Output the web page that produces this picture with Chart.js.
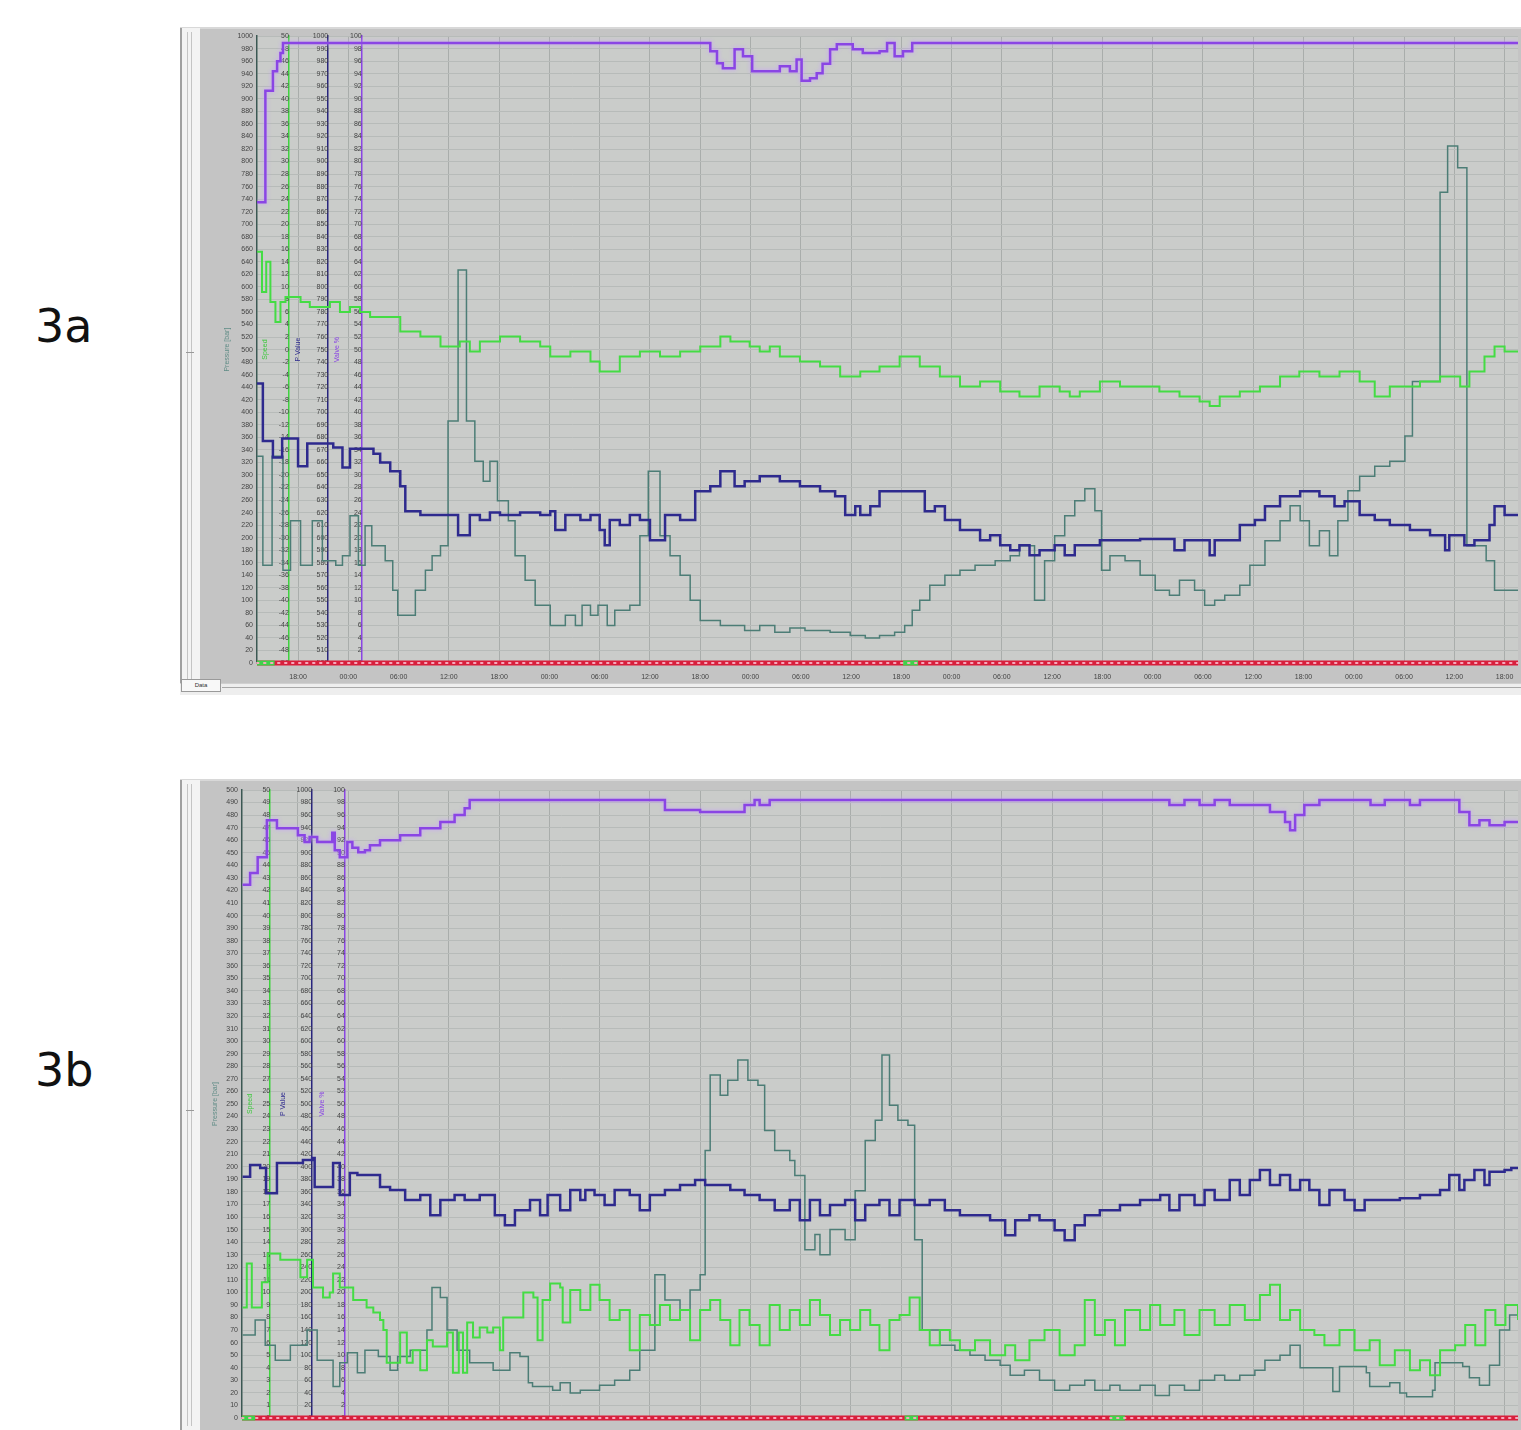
<!DOCTYPE html>
<html><head><meta charset="utf-8">
<script src="https://cdn.jsdelivr.net/npm/chart.js@4.4.1/dist/chart.umd.min.js"></script>
<style>
html,body{margin:0;padding:0;background:#fff;width:1521px;height:1430px;overflow:hidden;position:relative;font-family:"DejaVu Sans",sans-serif}
.lbl{position:absolute;left:35px;font-size:46px;line-height:46px;color:#111}
.wrap{position:absolute;left:180px;width:1341px}
#w1{top:28px;height:655px}
#w2{top:780px;height:680px}
canvas{display:block}
.strip{position:absolute;left:180px;width:20px;background:#f3f3f3;border-left:2px solid #a0a0a0;box-sizing:border-box;z-index:2}
.strip:after{content:"";position:absolute;left:5px;top:4px;bottom:4px;width:3px;border-left:1px solid #c4c4c4;border-right:1px solid #c4c4c4}
.thumb{position:absolute;left:186px;width:8px;height:5px;border-top:1px solid #999;z-index:3}
.bottom{position:absolute;left:180px;width:1341px;top:683px;height:12px;background:#eeeeee;border-top:1px solid #d0d0d0;box-sizing:border-box;z-index:2}
.bottom:after{content:"";position:absolute;left:42px;right:0;top:3px;border-top:1px solid #a8a8a8}
.tab{position:absolute;left:181px;top:679px;width:40px;height:13px;background:#f8f8f8;border:1px solid #9a9a9a;box-sizing:border-box;font:6px "Liberation Sans",Arial,sans-serif;color:#333;text-align:center;line-height:11px;z-index:3}
.topline{position:absolute;left:180px;width:1341px;height:2px;background:#d8d8d8;z-index:2}
</style></head>
<body>
<div class="lbl" style="top:303px">3a</div>
<div class="lbl" style="top:1047px">3b</div>
<div class="wrap" id="w1"><canvas id="c1" width="1341" height="655"></canvas></div>
<div class="wrap" id="w2"><canvas id="c2" width="1341" height="680"></canvas></div>
<div class="topline" style="top:27px"></div>
<div class="topline" style="top:779px"></div>
<div class="strip" style="top:28px;height:667px"></div>
<div class="thumb" style="top:352px"></div>
<div class="strip" style="top:780px;height:650px"></div>
<div class="thumb" style="top:1110px"></div>
<div class="bottom"></div>
<div class="tab">Data</div>
<script>
// ---------- shared x-axis (hours) ----------
const xTickHours = [18,24,30,36,42,48,54,60,66,72,78,84,90,96,102,108,114,120,126,132,138,144,150,156,162];
const xTickLabels = ['18:00','00:00','06:00','12:00','18:00','00:00','06:00','12:00','18:00','00:00','06:00','12:00','18:00','00:00','06:00','12:00','18:00','00:00','06:00','12:00','18:00','00:00','06:00','12:00','18:00'];

// ---------- 3a series ----------
const a_purple_t = [13.1,14.1,15.0,15.5,15.9,16.2,67.2,68.0,68.7,70.1,71.1,72.2,75.5,76.7,77.5,78.1,79.1,79.9,80.6,81.5,82.3,84.2,85.4,87.4,88.3,89.2,90.2,91.3,163.6];
const a_purple_v = [73.5,91.3,94.4,96.0,97.3,98.9,97.6,95.7,94.9,97.9,96.8,94.4,95.2,94.4,96.3,92.9,93.3,94.1,95.6,97.9,98.7,97.9,97.3,97.6,98.9,96.8,97.6,98.9,98.9];

const a_green_t = [13.1,13.7,14.2,14.7,15.3,15.9,16.5,18.3,19.4,21.8,23.0,24.2,25.4,26.6,30.2,32.6,35.0,37.3,38.5,39.7,42.1,44.5,46.9,48.1,50.5,52.9,54.0,56.4,58.8,61.2,63.6,66.0,68.4,69.6,71.9,73.1,74.3,75.5,77.9,80.3,82.7,85.1,87.4,89.8,92.2,94.6,97.0,99.4,101.8,104.1,106.5,108.9,110.1,111.3,113.7,116.1,120.8,123.2,125.6,126.8,128.0,130.4,132.8,135.2,137.5,139.9,142.3,144.7,146.5,148.3,151.9,154.3,156.7,157.8,159.6,160.8,162.0,163.6];
const a_green_v = [15.6,9.2,14.0,7.6,4.4,7.6,8.4,7.6,6.8,7.6,6.0,6.8,6.0,5.2,2.9,2.1,0.5,1.3,-0.3,1.3,2.1,1.3,0.5,-1.1,-0.3,-1.9,-3.5,-1.1,-0.3,-1.1,-0.3,0.5,2.1,1.3,0.5,-0.3,0.5,-1.1,-1.9,-2.7,-4.3,-3.5,-2.7,-1.1,-2.7,-4.3,-5.9,-5.1,-6.7,-7.5,-5.9,-6.7,-7.5,-6.7,-5.1,-5.9,-6.7,-7.5,-8.3,-9.0,-7.5,-6.7,-5.9,-4.3,-3.5,-4.3,-3.5,-5.1,-7.5,-5.9,-5.1,-4.3,-5.9,-3.5,-1.1,0.5,-0.3,-0.3];

const a_navy_t = [13.1,13.8,15.0,16.1,18.0,19.1,22.2,23.3,24.2,27.0,27.8,29.0,30.2,30.8,32.6,37.1,38.5,39.7,40.9,42.1,44.5,46.9,48.1,48.7,49.9,51.7,52.9,54.0,54.6,55.2,56.4,57.6,58.8,60.0,61.8,63.6,65.4,67.2,68.4,70.1,71.3,73.1,75.5,77.9,80.3,82.1,83.3,84.5,85.1,86.3,87.4,92.8,94.0,95.2,97.0,99.4,100.6,101.8,103.0,104.1,105.3,106.5,108.3,109.5,110.7,113.7,118.5,122.6,123.8,126.8,127.4,130.4,132.2,133.4,135.2,137.6,139.9,141.7,142.9,144.7,146.5,148.3,150.7,153.1,154.9,155.4,157.2,158.4,160.2,160.8,162.0,163.6];
const a_navy_v = [723,677,664,679,657,675,672,656,671,667,660,653,641,621,618,602,618,614,620,618,620,618,621,606,618,614,618,606,594,614,610,618,614,598,618,614,637,641,653,641,645,649,645,641,637,633,618,625,618,625,637,621,625,614,606,598,602,594,590,594,586,590,594,586,594,598,599,590,598,586,598,610,614,625,633,637,633,625,629,618,614,610,606,602,590,602,594,598,610,625,618,618];

const a_teal_t = [13.1,13.8,14.9,16.2,17.1,18.3,19.7,20.9,22.5,23.3,24.2,25.2,26.0,26.8,28.4,29.3,29.9,32.0,33.2,34.0,35.0,35.9,37.1,38.1,39.1,40.1,40.9,41.8,43.1,43.9,45.1,46.3,48.1,49.9,51.1,51.9,52.9,53.8,54.9,55.8,57.6,58.8,59.8,61.2,62.4,63.6,64.8,66.0,68.4,71.3,73.1,74.9,76.7,78.5,81.5,83.9,85.7,87.4,89.2,90.4,91.3,92.2,93.4,95.2,97.0,98.8,101.2,103.0,104.1,105.9,107.1,108.3,109.5,110.7,111.9,113.1,113.9,114.9,116.7,118.5,120.3,122.0,123.2,125.0,126.2,127.4,128.6,130.4,131.6,133.4,135.2,136.4,137.6,138.7,139.9,141.1,142.1,143.3,144.7,146.5,148.3,150.1,151.0,154.3,155.2,156.4,157.5,159.8,160.8,163.6];
const a_teal_v = [330,156,330,148,227,156,227,163,156,171,235,156,219,187,163,116,76,116,148,171,187,386,627,386,322,290,322,259,227,171,132,92,60,76,60,92,76,92,60,84,92,203,306,203,171,140,100,68,60,52,60,49,56,52,49,44,40,44,49,60,84,100,124,140,148,156,163,171,187,100,163,203,235,259,278,243,148,171,163,140,116,108,132,116,92,100,108,124,156,195,227,251,227,187,211,171,227,275,298,314,322,362,449,751,825,790,187,163,116,116];

const a_statusGreen = [[13.1,15.2],[90.2,92.0]];

// ---------- 3b series ----------
const b_purple_t = [11.4,12.3,13.2,14.3,15.5,18.0,18.8,19.4,20.3,22.1,22.4,23.0,23.9,24.5,25.2,26.0,26.6,27.8,30.2,32.6,35.0,36.7,37.9,38.5,61.8,66.0,71.3,72.5,73.1,74.3,122.0,123.8,125.6,127.4,129.2,134.0,135.8,136.4,137.0,138.1,139.9,146.0,147.7,150.7,151.9,156.6,157.8,159.0,160.2,162.0,163.6];
const b_purple_v = [84.9,86.8,89.3,95.2,93.9,92.8,91.7,92.5,91.7,93.2,90.4,89.3,91.7,90.8,90.1,90.4,91.2,92.0,92.8,93.9,94.9,96.0,97.1,98.4,96.8,96.5,97.6,98.4,97.6,98.4,97.6,98.4,97.6,98.4,97.6,96.5,94.9,93.6,96.0,97.6,98.4,97.6,98.4,97.6,98.4,96.5,94.4,95.2,94.4,94.9,94.9];

const b_navy_t = [11.4,12.3,13.5,14.2,15.5,18.6,19.7,20.0,22.2,23.0,24.2,25.1,27.8,29.0,30.8,32.6,33.8,35.0,36.7,37.9,39.7,41.5,42.7,43.9,45.7,46.9,47.8,49.3,50.5,51.7,52.3,53.4,54.6,55.8,57.6,58.8,60.0,61.8,63.6,65.4,66.6,69.6,71.3,73.1,74.9,76.7,77.9,79.1,80.3,81.5,83.3,84.5,85.7,87.4,88.6,89.8,91.6,93.4,95.2,97.0,100.6,102.4,103.6,105.3,106.5,108.3,109.5,110.7,111.9,113.7,116.1,118.5,120.9,122.0,123.2,125.0,126.2,127.4,129.2,130.4,131.6,132.8,134.0,135.2,136.4,137.6,138.7,139.9,141.1,142.9,144.1,145.3,149.5,151.9,154.3,155.4,156.6,157.2,158.4,159.6,160.2,162.0,162.8,163.6];
const b_navy_v = [384,403,398,358,406,411,414,368,406,355,390,387,368,363,347,355,323,347,355,347,355,323,307,331,347,323,355,331,363,347,363,355,339,363,355,331,355,363,371,379,371,363,355,347,331,347,315,347,323,339,347,315,339,347,323,347,339,347,331,323,315,291,315,323,315,299,283,307,323,331,339,347,355,331,355,339,363,347,379,355,379,395,371,387,363,379,363,339,363,347,331,347,350,355,363,387,363,379,395,371,392,395,398,398];

const b_green_t = [11.4,11.9,12.5,13.7,14.4,15.9,18.3,19.1,19.8,21.0,21.8,22.2,23.0,24.6,26.2,27.0,27.8,28.2,28.6,30.2,31.0,31.7,32.6,33.4,34.1,35.8,36.5,37.2,37.7,38.2,38.9,39.7,40.6,41.3,42.1,42.5,44.9,46.1,46.6,47.2,48.1,49.3,49.6,50.5,51.7,52.9,54.0,55.2,56.4,57.6,58.8,60.0,61.2,62.4,63.6,64.8,66.0,67.2,68.4,69.6,70.7,71.9,73.1,74.3,75.5,76.7,77.9,79.1,80.3,81.5,82.7,83.9,85.1,86.3,87.4,88.6,89.8,91.0,92.2,93.4,94.6,95.8,97.0,98.8,100.6,102.4,103.6,105.3,107.1,108.9,110.7,111.9,113.1,114.3,115.5,116.7,118.5,119.7,120.9,122.6,123.8,125.6,127.4,129.2,131.0,132.8,134.0,135.2,136.4,137.6,139.3,140.5,142.3,144.1,145.9,147.1,148.9,150.7,151.9,153.1,154.3,156.1,157.3,158.5,159.7,160.9,162.1,163.6];
const b_green_v = [8.8,12.3,8.8,10.8,13.1,12.6,11.2,12.6,10.4,9.6,10.0,11.5,10.4,9.4,8.8,8.4,7.8,7.0,4.4,6.8,4.4,5.4,3.8,6.2,5.7,6.8,3.6,6.8,3.6,7.6,6.4,7.2,6.8,7.2,5.4,8.0,10.0,9.6,6.2,9.4,10.7,10.4,7.6,10.2,8.6,10.6,9.4,7.8,8.6,5.4,8.2,7.4,9.0,7.8,8.6,6.2,8.6,9.4,7.8,5.8,8.6,7.4,5.8,9.0,7.0,8.6,7.4,9.4,8.2,6.6,7.8,7.0,8.6,7.4,5.4,7.8,8.2,9.6,7.0,5.8,7.0,6.2,5.4,6.2,5.0,5.8,4.6,6.2,7.0,5.0,5.8,9.4,6.6,7.8,5.8,8.6,7.0,9.0,7.4,8.6,6.6,8.6,7.4,9.0,7.8,9.8,10.6,7.8,8.6,7.0,6.6,5.8,7.0,5.4,6.2,4.2,5.4,3.8,4.6,3.4,5.4,5.8,7.4,5.8,8.6,7.4,9.0,7.8];

const b_teal_t = [11.4,12.9,14.1,15.3,17.1,19.1,20.3,22.2,23.0,23.9,25.1,26.0,27.6,29.0,29.9,31.4,33.4,34.0,35.0,35.8,37.0,38.5,41.3,43.3,44.5,45.5,46.0,48.4,49.3,50.5,51.7,54.0,55.8,57.6,58.8,60.6,61.8,63.6,64.8,66.0,66.6,67.2,68.4,69.3,70.5,71.7,72.9,73.7,74.9,76.7,77.3,78.5,79.7,80.3,81.5,83.3,84.5,85.7,86.9,87.7,88.6,89.6,90.8,91.6,92.5,94.6,96.4,98.2,100.0,101.8,103.0,104.7,106.5,108.3,110.1,111.9,113.1,114.9,116.1,118.5,120.3,122.0,123.8,125.6,127.4,128.6,130.4,132.2,133.4,135.2,136.4,137.6,141.5,142.3,145.5,145.9,148.3,149.5,150.3,153.4,153.7,157.0,157.8,159.0,160.2,161.4,162.6,163.6];
const b_teal_v = [66,78,58,46,58,70,46,25,44,52,36,54,49,38,49,54,70,104,96,70,54,44,38,52,49,28,25,22,28,20,22,26,30,38,54,114,94,86,102,114,213,273,257,269,285,269,265,229,213,205,193,134,146,130,150,142,181,221,237,289,249,237,233,142,70,58,54,50,46,42,34,38,30,22,26,30,22,26,22,26,18,26,22,30,34,30,34,38,46,50,58,40,21,41,36,25,28,20,17,22,44,41,32,26,42,70,82,82];

const b_statusGreen = [[11.33,12.9],[90.4,92.0],[114.9,116.7]];

// ---------- axis definitions ----------
const a_axisRanges = {y:[0,1000,20], y2:[-50,50,2], y3:[500,1000,10], y4:[0,100,2]};
const b_axisRanges = {y:[0,500,10], y2:[0,50,1], y3:[0,1000,20], y4:[0,100,2]};
const axisTitleText = ['Pressure [bar]','Speed','P Value','Valve %'];

const COL = {teal:'#4c7d76', green:'#44dc44', navy:'#2e2a8e', purple:'#8a45e4', red:'#d81f3c'};
const FONT = {family:'"Liberation Sans", Arial, sans-serif', size:7};

const pts = (T,V) => T.map((t,i)=>({x:t, y:V[i]}));

const bgPlugin = {id:'bg', beforeDraw(chart, a, o){
  const {ctx, chartArea:c, width, height} = chart;
  ctx.save(); ctx.fillStyle = o.outer; ctx.fillRect(0,0,width,height);
  ctx.fillStyle = o.inner; ctx.fillRect(c.left, c.top, c.right-c.left, c.bottom-c.top); ctx.restore();
}};
const glowPlugin = {id:'glow',
  beforeDatasetDraw(chart, args){ const ds = chart.data.datasets[args.index]; if (ds.glow){ chart.ctx.save(); chart.ctx.shadowColor = ds.glow; chart.ctx.shadowBlur = 4; } },
  afterDatasetDraw(chart, args){ const ds = chart.data.datasets[args.index]; if (ds.glow){ chart.ctx.restore(); } }
};
const titlePlugin = {id:'axTitles', afterDatasetsDraw(chart, a, o){
  const {ctx, chartArea, scales} = chart;
  const cy = (chartArea.top + chartArea.bottom)/2;
  ctx.save();
  ctx.font = '7px "Liberation Sans", Arial, sans-serif';
  ctx.textAlign = 'center'; ctx.textBaseline = 'middle';
  o.items.forEach(it => {
    const pos = scales[it.axis].options.position;
    const px = (typeof pos === 'object') ? scales.x.getPixelForValue(pos.x) : chartArea.left;
    ctx.save(); ctx.translate(px - it.offset, cy); ctx.rotate(-Math.PI/2);
    ctx.fillStyle = it.color; ctx.fillText(it.text, 0, 0); ctx.restore();
  });
  ctx.restore();
}};

function buildChart(id, cfg){
  const R = cfg.ranges;
  const yAxis = (key, color, pos, isMain) => ({
    type:'linear', position: pos, min:R[key][0], max:R[key][1],
    ticks:{stepSize:R[key][2], autoSkip:false, font:FONT, color:'#444', padding:4, callback:(v)=>String(v)},
    grid:{display:isMain, color:'#b7bbb9', lineWidth:1, drawTicks:false},
    border:{display:true, color:color, width:1.5},
    afterFit: isMain ? (s)=>{ s.width = cfg.col1Width; } : undefined
  });
  const datasets = [];
  datasets.push({data:[{x:cfg.xmin,y:0},{x:cfg.xmax,y:0}], yAxisID:'y', borderColor:'#f7a9bd', borderWidth:2, borderDash:[1.5,5.5], borderCapStyle:'round', pointRadius:0, clip:false});
  cfg.statusGreen.forEach(r => datasets.push({data:[{x:r[0],y:0},{x:r[1],y:0}], yAxisID:'y', borderColor:'#3fd24a', borderWidth:5, pointRadius:0, clip:false}));
  datasets.push({data:[{x:cfg.xmin,y:0},{x:cfg.xmax,y:0}], yAxisID:'y', borderColor:COL.red, borderWidth:5, pointRadius:0, clip:false});
  datasets.push({data:pts(cfg.purple[0],cfg.purple[1]), yAxisID:'y4', borderColor:COL.purple, borderWidth:2.5, stepped:true, pointRadius:0, glow:'rgba(200,160,255,0.95)'});
  datasets.push({data:pts(cfg.navy[0],cfg.navy[1]), yAxisID:'y3', borderColor:COL.navy, borderWidth:2.5, stepped:true, pointRadius:0});
  datasets.push({data:pts(cfg.green[0],cfg.green[1]), yAxisID:'y2', borderColor:COL.green, borderWidth:2, stepped:true, pointRadius:0});
  datasets.push({data:pts(cfg.teal[0],cfg.teal[1]), yAxisID:'y', borderColor:COL.teal, borderWidth:1.5, stepped:true, pointRadius:0});

  return new Chart(document.getElementById(id), {
    type:'line',
    data:{datasets},
    options:{
      responsive:false, animation:false, parsing:true,
      layout:{padding:cfg.padding},
      plugins:{legend:{display:false}, tooltip:{enabled:false},
        bg:{outer:'#c4c4c4', inner:'#caccca'},
        axTitles:{items:[
          {axis:'y', text:axisTitleText[0], color:'#5f8c86', offset:cfg.titleOff[0]},
          {axis:'y2', text:axisTitleText[1], color:'#3cc83c', offset:cfg.titleOff[1]},
          {axis:'y3', text:axisTitleText[2], color:'#2e2a8e', offset:cfg.titleOff[2]},
          {axis:'y4', text:axisTitleText[3], color:'#8a45e4', offset:cfg.titleOff[3]}
        ]}
      },
      scales:{
        x:{type:'linear', position:'bottom', min:cfg.xmin, max:cfg.xmax,
          afterBuildTicks:(s)=>{ s.ticks = xTickHours.map(v=>({value:v})); },
          ticks:{autoSkip:false, maxRotation:0, font:FONT, color:'#444', padding:cfg.xPad,
            callback:(v,i)=> xTickLabels[i]},
          grid:{color:'#a9adab', lineWidth:1, drawTicks:false},
          border:{display:false},
          afterFit:(s)=>{ s.height = 20; s.paddingLeft = 0; s.paddingRight = 0; }
        },
        y: yAxis('y', '#3b5853', 'left', true),
        y2: yAxis('y2', '#3fd23f', {x:cfg.colPos[0]}, false),
        y3: yAxis('y3', '#28257e', {x:cfg.colPos[1]}, false),
        y4: yAxis('y4', '#8a45e4', {x:cfg.colPos[2]}, false)
      }
    },
    plugins:[bgPlugin, glowPlugin, titlePlugin]
  });
}

buildChart('c1', {
  ranges:a_axisRanges, xmin:13.1, xmax:163.6, col1Width:57, colPos:[16.9,21.6,25.6], xPad:10,
  padding:{left:20, right:3, top:5, bottom:0}, titleOff:[30,24,30,25],
  purple:[a_purple_t,a_purple_v], navy:[a_navy_t,a_navy_v], green:[a_green_t,a_green_v], teal:[a_teal_t,a_teal_v],
  statusGreen:a_statusGreen
});
buildChart('c2', {
  ranges:b_axisRanges, xmin:11.33, xmax:163.6, col1Width:42, colPos:[14.7,19.7,23.6], xPad:16,
  padding:{left:20, right:3, top:10, bottom:22}, titleOff:[27,20,29,23],
  purple:[b_purple_t,b_purple_v], navy:[b_navy_t,b_navy_v], green:[b_green_t,b_green_v], teal:[b_teal_t,b_teal_v],
  statusGreen:b_statusGreen
});
</script>
</body></html>
